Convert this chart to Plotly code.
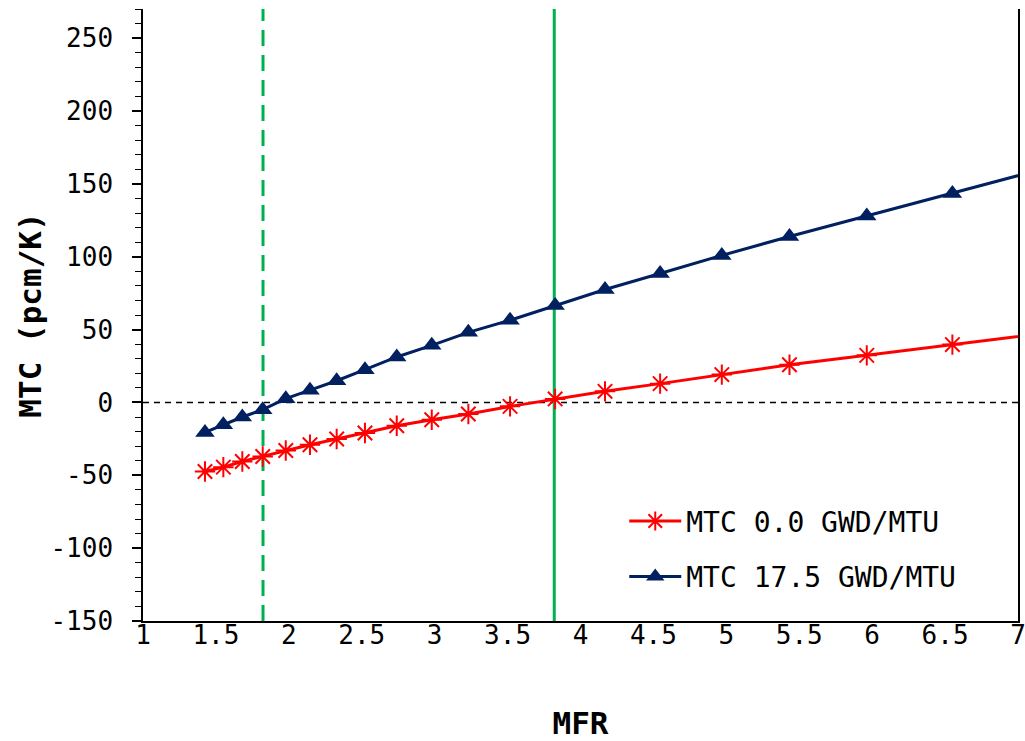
import plotly.graph_objects as go

# ---- data ----
mfr = [1.425, 1.551, 1.681, 1.821, 1.979, 2.145, 2.328, 2.522, 2.740, 2.980,
       3.231, 3.517, 3.826, 4.168, 4.546, 4.969, 5.433, 5.963, 6.550, 7.22]
mtc_0 = [-47.4, -44.4, -40.5, -37.1, -33.0, -29.0, -25.1, -21.0, -16.0, -11.9,
         -7.9, -2.7, 2.4, 7.6, 12.9, 19.1, 25.9, 32.3, 39.7, 48.0]
mtc_175 = [-20.6, -15.3, -10.0, -5.0, 2.6, 8.4, 14.9, 22.5, 31.2, 39.2,
           48.1, 56.4, 66.5, 77.5, 88.5, 100.9, 113.9, 127.9, 143.3, 161.5]
series_names = ["MTC 0.0 GWD/MTU", "MTC 17.5 GWD/MTU"]
ref_line_dashed = 1.823
ref_line_solid = 3.82
x_ticks = [1, 1.5, 2, 2.5, 3, 3.5, 4, 4.5, 5, 5.5, 6, 6.5, 7]
x_tick_labels = ["1", "1.5", "2", "2.5", "3", "3.5", "4", "4.5", "5", "5.5", "6", "6.5", "7"]
y_ticks = [-150, -100, -50, 0, 50, 100, 150, 200, 250]
y_tick_labels = ["-150", "-100", "-50", "0", "50", "100", "150", "200", "250"]

FONT = "DejaVu Sans Mono"
RED = "#FF0000"
NAVY = "#002060"
GREEN = "#00B050"

fig = go.Figure()
fig.add_trace(go.Scatter(
    x=mfr, y=mtc_0, name=series_names[0], mode="lines+markers",
    legendgroup="a",
    line=dict(color=RED, width=3),
    marker=dict(symbol="asterisk-open", size=17, color=RED,
                line=dict(color=RED, width=2)),
))
fig.add_trace(go.Scatter(
    x=mfr, y=mtc_175, name=series_names[1], mode="lines+markers",
    legendgroup="b",
    line=dict(color=NAVY, width=3),
    marker=dict(symbol="triangle-up", size=17, color=NAVY),
))

# zero line (dashed black)
fig.add_shape(type="line", xref="paper", x0=0, x1=1, yref="y", y0=0, y1=0,
              line=dict(color="black", width=1.5, dash="6px,5px"), layer="below")
# reference vertical lines
fig.add_shape(type="line", xref="x", x0=ref_line_dashed, x1=ref_line_dashed,
              yref="paper", y0=0, y1=1,
              line=dict(color=GREEN, width=3, dash="16px,9px"), layer="below")
fig.add_shape(type="line", xref="x", x0=ref_line_solid, x1=ref_line_solid,
              yref="paper", y0=0, y1=1,
              line=dict(color=GREEN, width=3), layer="below")

fig.update_layout(
    width=1025, height=741,
    margin=dict(l=143, r=7, t=9, b=120, autoexpand=False),
    paper_bgcolor="white", plot_bgcolor="white",
    font=dict(family=FONT, size=26, color="black"),
    showlegend=True,
    legend=dict(x=0.55, y=0.118, xanchor="left", yanchor="middle",
                font=dict(family=FONT, size=28, color="black"),
                bgcolor="rgba(0,0,0,0)", tracegroupgap=16,
                traceorder="grouped", itemwidth=52),
)
fig.update_xaxes(
    range=[1, 7], tickvals=x_ticks, ticktext=x_tick_labels,
    showgrid=False, zeroline=False, showline=True, linecolor="black",
    linewidth=1.5, ticks="", ticklabelstandoff=-10, automargin=False,
    ticklabeloverflow="allow",
    tickfont=dict(family=FONT, size=26),
    title=dict(text="<b>MFR</b>", font=dict(family=FONT, size=31), standoff=69),
)
fig.update_yaxes(
    range=[-150, 270], tickvals=y_ticks, ticktext=y_tick_labels,
    showgrid=False, zeroline=False, showline=True, linecolor="black",
    linewidth=1.5, mirror=True, ticks="outside", ticklen=9, tickwidth=1.5,
    tickcolor="black", ticklabelstandoff=14, automargin=False,
    ticklabeloverflow="allow",
    minor=dict(dtick=10, tick0=0, ticks="outside", ticklen=6, tickwidth=1, tickcolor="black"),
    tickfont=dict(family=FONT, size=26),
    title=dict(text="<b>MTC (pcm/K)</b>", font=dict(family=FONT, size=31), standoff=0),
)

fig.write_html(
    "out.html",
    config={"displayModeBar": False},
    post_script="document.body.style.margin='0';document.body.style.overflow='hidden';",
)
